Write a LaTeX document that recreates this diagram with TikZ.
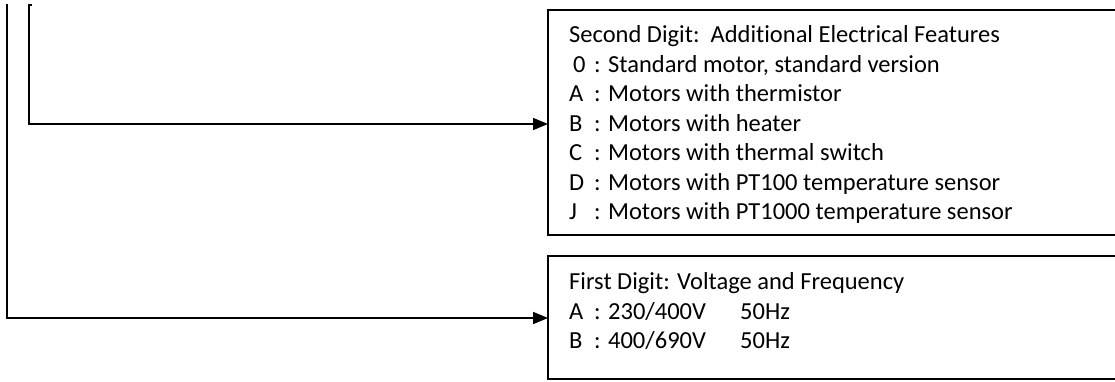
\documentclass[tikz,border=0pt]{standalone}
\usepackage{fontspec}
\setmainfont{Carlito}[Ligatures=NoCommon]
\usetikzlibrary{arrows.meta}
\tikzset{
  boxline/.style={draw=black, line width=1.6pt, fill=none, inner sep=0pt, outer sep=0pt, anchor=north west},
  conn/.style={draw=black, line width=1.6pt, -{Triangle[length=15pt,width=12pt]}},
  txt/.style={anchor=base west, inner sep=0pt, font=\fontsize{24.5}{29.5}\selectfont}
}
\newcommand{\lettr}[1]{\makebox[25pt][l]{#1}}
\begin{document}
\begin{tikzpicture}[x=1pt,y=-1pt]
\clip (0,0) rectangle (1115,381);
\fill[white] (0,0) rectangle (1115,381);
% boxes
\node[boxline, minimum width=600pt, minimum height=225pt] (box1) at (548,10) {};
\node[boxline, minimum width=600pt, minimum height=123pt] (box2) at (548,256) {};
% top box text
\node[txt] (t0) at (569,42.5) {Second Digit:\ \ Additional Electrical Features};
\node[txt] (t1) at (569,72) {\hspace{4pt}\makebox[21pt][l]{0}: Standard motor, standard version};
\node[txt] (t2) at (569,101.5) {\lettr{A}: Motors with thermistor};
\node[txt] (t3) at (569,131) {\lettr{B}: Motors with heater};
\node[txt] (t4) at (569,160.5) {\lettr{C}: Motors with thermal switch};
\node[txt] (t5) at (569,190) {\lettr{D}: Motors with PT100 temperature sensor};
\node[txt] (t6) at (569,219.5) {\lettr{J}: Motors with PT1000 temperature sensor};
% bottom box text
\node[txt] (u0) at (569,289) {First Digit: Voltage and Frequency};
\node[txt] (u1) at (569,319) {\lettr{A}: 230/400V};
\node[txt] (u1h) at (740,319) {50Hz};
\node[txt] (u2) at (569,348) {\lettr{B}: 400/690V};
\node[txt] (u2h) at (740,348) {50Hz};
% connectors
\coordinate (outertop) at (7,4);
\coordinate (innertick) at (32,5);
\coordinate (innertop) at (29,5);
\coordinate (lvl1) at (0,124);
\coordinate (lvl2) at (0,318);
\draw[conn] (innertick) -- (innertop) |- (lvl1 -| box1.west);
\draw[conn] (outertop) |- (lvl2 -| box2.west);
\end{tikzpicture}
\end{document}
